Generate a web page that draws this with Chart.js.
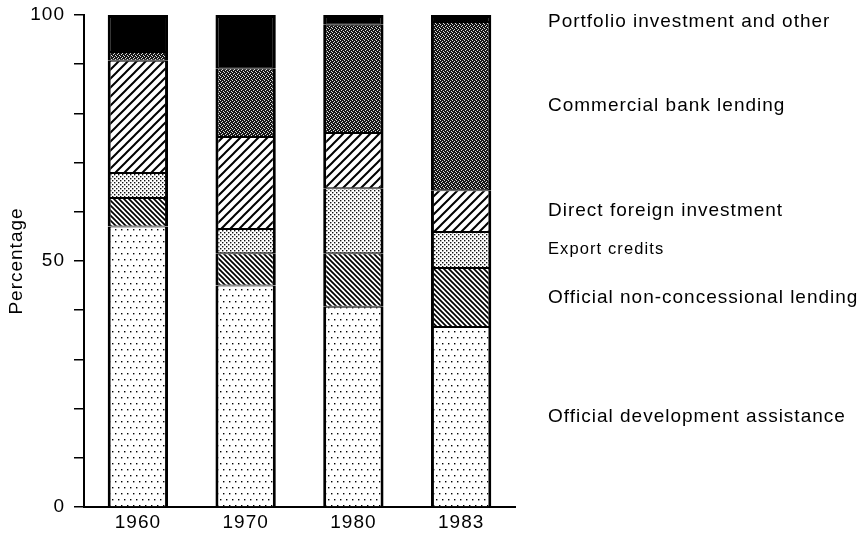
<!DOCTYPE html>
<html>
<head>
<meta charset="utf-8">
<script src="https://cdn.jsdelivr.net/npm/chart.js@4"></script>
<style>
  html, body { margin: 0; padding: 0; background: #fff; }
  #wrap { width: 864px; height: 536px; }
</style>
</head>
<body>
<div id="wrap"><canvas id="flowsChart" width="864" height="536"></canvas></div>
<script>
// shares of total net flows, percent, bottom segment first
const years = ['1960', '1970', '1980', '1983'];
const officialDevAssistance = [57.0, 45.0, 40.7, 36.6];
const officialNonConcessional = [5.8, 6.6, 10.9, 12.0];
const exportCredits = [5.1, 4.9, 13.2, 7.3];
const directForeignInvestment = [22.8, 18.7, 11.2, 8.5];
const commercialBankLending = [1.8, 14.0, 22.0, 34.2];
const portfolioAndOther = [7.5, 10.8, 2.0, 1.4];
const yTickLabels = [0, 50, 100];

const FONT = '"Liberation Sans", Arial, Helvetica, sans-serif';
const TRACKING = '1px';

// little tile canvases used as fill patterns
function tile(w, h, paint) {
    const c = document.createElement('canvas');
    c.width = w; c.height = h;
    const g = c.getContext('2d');
    paint(g, w, h);
    return g.createPattern(c, 'repeat');
}

const sparseDots = tile(12, 12, (g, w, h) => {
    g.fillStyle = '#fff'; g.fillRect(0, 0, w, h);
    g.fillStyle = '#000';
    [[1, 1], [7, 1], [4, 7], [10, 7]].forEach(([x, y]) => g.fillRect(x, y, 1.4, 1.4));
});

const fineDots = tile(4, 4, (g, w, h) => {
    g.fillStyle = '#fff'; g.fillRect(0, 0, w, h);
    g.fillStyle = '#111';
    g.fillRect(0, 0, 1.4, 1.4);
    g.fillRect(2, 2, 1.4, 1.4);
});

const darkStipple = tile(4, 4, (g, w, h) => {
    g.fillStyle = '#151515'; g.fillRect(0, 0, w, h);
    g.fillStyle = '#ddd';
    [[0, 0], [2, 1], [1, 2], [3, 3]].forEach(([x, y]) => g.fillRect(x, y, 1, 1));
});

function hatch(size, width, forward) {
    return tile(size, size, (g, w, h) => {
        g.fillStyle = '#fff'; g.fillRect(0, 0, w, h);
        g.strokeStyle = '#000';
        g.lineWidth = width;
        g.beginPath();
        if (forward) {
            g.moveTo(-1, h + 1); g.lineTo(w + 1, -1);
            g.moveTo(-1, 1); g.lineTo(1, -1);
            g.moveTo(w - 1, h + 1); g.lineTo(w + 1, h - 1);
        } else {
            g.moveTo(-1, -1); g.lineTo(w + 1, h + 1);
            g.moveTo(w - 1, -1); g.lineTo(w + 1, 1);
            g.moveTo(-1, h - 1); g.lineTo(1, h + 1);
        }
        g.stroke();
    });
}

const series = [
    { label: 'Official development assistance', data: officialDevAssistance, fill: sparseDots },
    { label: 'Official non-concessional lending', data: officialNonConcessional, fill: hatch(5, 1.7, false) },
    { label: 'Export credits', data: exportCredits, fill: fineDots, small: true },
    { label: 'Direct foreign investment', data: directForeignInvestment, fill: hatch(9, 2, true) },
    { label: 'Commercial bank lending', data: commercialBankLending, fill: darkStipple },
    { label: 'Portfolio investment and other', data: portfolioAndOther, fill: '#000' }
];

// the lettering is widely tracked; canvas resets state on resize so set it each pass
const tracking = {
    id: 'tracking',
    beforeUpdate(chart) { chart.ctx.letterSpacing = TRACKING; },
    beforeDraw(chart) { chart.ctx.letterSpacing = TRACKING; }
};

// segment names written beside the last bar
const sideLabels = {
    id: 'sideLabels',
    afterDraw(chart) {
        const { ctx, chartArea } = chart;
        ctx.save();
        ctx.fillStyle = '#000';
        ctx.textAlign = 'left';
        ctx.textBaseline = 'middle';
        chart.data.datasets.forEach((ds, i) => {
            const bars = chart.getDatasetMeta(i).data;
            const bar = bars[bars.length - 1];
            let y = (bar.y + bar.base) / 2;
            y = Math.max(y, chartArea.top + 7);
            ctx.font = (ds.smallLabel ? '16.5px ' : '19px ') + FONT;
            ctx.letterSpacing = ds.smallLabel ? '1.1px' : TRACKING;
            ctx.fillText(ds.label, chartArea.right + 33, y);
        });
        ctx.restore();
    }
};

const last = series.length - 1;
new Chart(document.getElementById('flowsChart'), {
    type: 'bar',
    data: {
        labels: years,
        datasets: series.map((s, i) => ({
            label: s.label,
            data: s.data,
            backgroundColor: s.fill,
            borderColor: '#000',
            borderWidth: { left: 3, right: 3, top: i === last ? 3 : 1, bottom: i === 0 ? 0 : 1 },
            borderSkipped: false,
            categoryPercentage: 0.8,
            barPercentage: 0.7,
            smallLabel: !!s.small
        }))
    },
    options: {
        responsive: false,
        animation: false,
        layout: { padding: { top: 15, right: 349, bottom: 0, left: 0 } },
        plugins: {
            legend: { display: false },
            tooltip: { enabled: false }
        },
        scales: {
            x: {
                stacked: true,
                afterFit: scale => { scale.height = 29; },
                grid: { display: false, drawTicks: false },
                border: { color: '#000', width: 2 },
                ticks: { color: '#000', font: { family: FONT, size: 19 }, padding: 4 }
            },
            y: {
                stacked: true,
                min: 0,
                max: 100,
                afterFit: scale => {
                    scale.width = 84;
                    scale.paddingTop = 0;
                    scale.paddingBottom = 0;
                },
                title: {
                    display: true,
                    text: 'Percentage',
                    color: '#000',
                    font: { family: FONT, size: 19 },
                    padding: { top: 5, bottom: 0 }
                },
                grid: { drawOnChartArea: false, color: '#000', lineWidth: 1.5, tickLength: 10 },
                border: { color: '#000', width: 2 },
                ticks: {
                    stepSize: 10,
                    color: '#000',
                    padding: 9,
                    font: { family: FONT, size: 19 },
                    callback: v => (yTickLabels.includes(v) ? v : '')
                }
            }
        }
    },
    plugins: [tracking, sideLabels]
});
</script>
</body>
</html>
